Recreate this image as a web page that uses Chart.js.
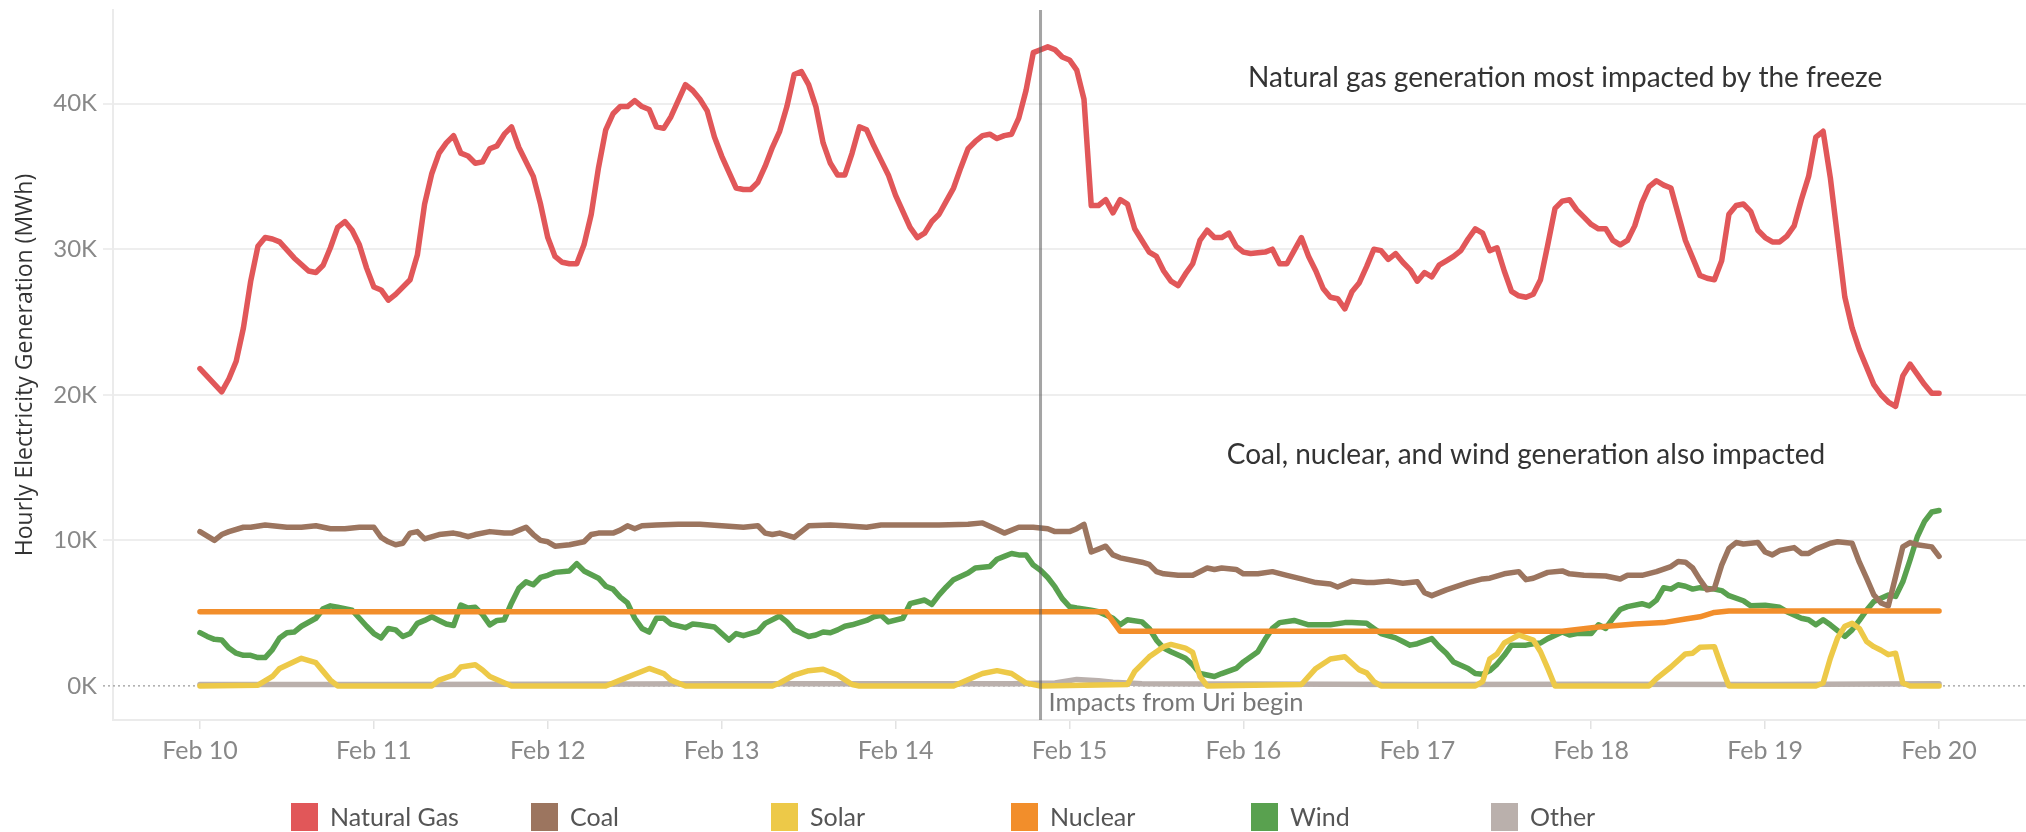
<!DOCTYPE html>
<html>
<head>
<meta charset="utf-8">
<script src="https://cdn.jsdelivr.net/npm/chart.js@4.4.1/dist/chart.umd.min.js"></script>
<style>
  html, body { margin: 0; padding: 0; background: #fff; }
  #wrap { width: 2026px; height: 832px; }
</style>
</head>
<body>
<div id="wrap"><canvas id="genChart" width="2026" height="832"></canvas></div>
<script>
// hours counted from Feb 10 00:00, values in MWh
const dayTicks = [0, 24, 48, 72, 96, 120, 144, 168, 192, 216, 240];
const dayLabels = ["Feb 10", "Feb 11", "Feb 12", "Feb 13", "Feb 14", "Feb 15", "Feb 16", "Feb 17", "Feb 18", "Feb 19", "Feb 20"];
const yTicks = [0, 10000, 20000, 30000, 40000];

const gas = [[0,21800],[3,20200],[4,21100],[5,22300],[6,24600],[7,27800],[8,30200],[9,30800],[10,30700],[11,30500],[13,29400],[15,28500],[16,28400],[17,28900],[18,30100],[19,31500],[20,31900],[21,31300],[22,30300],[23,28700],[24,27400],[25,27200],[26,26500],[27,26900],[29,27900],[30,29600],[31,33100],[32,35200],[33,36600],[34,37300],[35,37800],[36,36600],[37,36400],[38,35900],[39,36000],[40,36900],[41,37100],[42,37900],[43,38400],[44,37000],[46,35000],[47,33100],[48,30800],[49,29500],[50,29100],[51,29000],[52,29000],[53,30300],[54,32400],[55,35600],[56,38200],[57,39300],[58,39800],[59,39800],[60,40200],[61,39800],[62,39600],[63,38400],[64,38300],[65,39100],[66,40200],[67,41300],[68,40900],[69,40300],[70,39500],[71,37700],[72,36400],[73,35300],[74,34200],[75,34100],[76,34100],[77,34600],[78,35700],[79,37000],[80,38100],[81,39800],[82,42000],[83,42200],[84,41300],[85,39800],[86,37300],[87,35900],[88,35100],[89,35100],[90,36600],[91,38400],[92,38200],[93,37100],[94,36100],[95,35100],[96,33700],[98,31500],[99,30800],[100,31100],[101,31900],[102,32400],[103,33300],[104,34200],[105,35600],[106,36900],[107,37400],[108,37800],[109,37900],[110,37600],[111,37800],[112,37900],[113,39000],[114,40900],[115,43500],[116,43700],[117,43900],[118,43700],[119,43200],[120,43000],[121,42300],[122,40300],[123,33000],[124,33000],[125,33400],[126,32500],[127,33400],[128,33100],[129,31400],[130,30600],[131,29800],[132,29500],[133,28500],[134,27800],[135,27500],[136,28300],[137,29000],[138,30600],[139,31300],[140,30800],[141,30800],[142,31100],[143,30200],[144,29800],[145,29700],[147,29800],[148,30000],[149,29000],[150,29000],[151,29900],[152,30800],[153,29500],[154,28500],[155,27300],[156,26700],[157,26600],[158,25900],[159,27100],[160,27700],[161,28800],[162,30000],[163,29900],[164,29300],[165,29700],[166,29100],[167,28600],[168,27800],[169,28400],[170,28100],[171,28900],[172,29200],[173,29500],[174,29900],[175,30700],[176,31400],[177,31100],[178,29900],[179,30100],[180,28500],[181,27100],[182,26800],[183,26700],[184,26900],[185,27900],[186,30300],[187,32800],[188,33300],[189,33400],[190,32700],[191,32200],[192,31700],[193,31400],[194,31400],[195,30600],[196,30300],[197,30600],[198,31600],[199,33200],[200,34300],[201,34700],[202,34400],[203,34200],[204,32400],[205,30600],[206,29400],[207,28200],[208,28000],[209,27900],[210,29200],[211,32400],[212,33000],[213,33100],[214,32600],[215,31300],[216,30800],[217,30500],[218,30500],[219,30900],[220,31600],[221,33400],[222,35000],[223,37700],[224,38100],[225,34900],[226,30800],[227,26700],[228,24600],[229,23100],[230,21900],[231,20700],[232,20000],[233,19500],[234,19200],[235,21300],[236,22100],[237,21400],[238,20700],[239,20100],[240,20100]];

const coal = [[0,10600],[2,10000],[3,10400],[4,10600],[6,10900],[7,10900],[9,11050],[10,11000],[12,10900],[14,10900],[16,11000],[18,10800],[20,10800],[22,10900],[24,10900],[25,10200],[26,9900],[27,9700],[28,9800],[29,10500],[30,10600],[31,10100],[33,10400],[35,10500],[36,10400],[37,10250],[38,10400],[40,10600],[42,10500],[43,10500],[45,10900],[46,10400],[47,10000],[48,9900],[49,9600],[51,9700],[53,9900],[54,10400],[55,10500],[57,10500],[58,10700],[59,11000],[60,10800],[61,11000],[63,11050],[66,11100],[69,11100],[72,11000],[75,10900],[77,11000],[78,10500],[79,10400],[80,10500],[82,10200],[84,11000],[87,11050],[89,11000],[92,10900],[94,11050],[98,11050],[102,11050],[106,11100],[108,11200],[110,10750],[111,10500],[113,10900],[115,10900],[117,10800],[118,10600],[120,10600],[121,10800],[122,11100],[123,9200],[124,9400],[125,9600],[126,9000],[127,8800],[130,8500],[131,8350],[132,7850],[133,7700],[135,7600],[137,7600],[139,8100],[140,8000],[141,8100],[143,8000],[144,7700],[146,7700],[148,7850],[150,7600],[152,7350],[154,7100],[156,7000],[157,6800],[159,7200],[161,7100],[162,7100],[164,7200],[166,7050],[168,7150],[169,6400],[170,6200],[172,6600],[175,7100],[177,7350],[178,7400],[180,7700],[182,7850],[183,7300],[184,7400],[186,7800],[188,7900],[189,7700],[191,7600],[194,7550],[196,7350],[197,7600],[199,7600],[201,7850],[203,8200],[204,8550],[205,8500],[206,8100],[207,7300],[208,6600],[209,6700],[210,8300],[211,9450],[212,9850],[213,9750],[215,9850],[216,9200],[217,9000],[218,9300],[220,9500],[221,9100],[222,9100],[223,9400],[225,9800],[226,9900],[228,9800],[229,8500],[230,7400],[231,6250],[232,5700],[233,5500],[234,7500],[235,9550],[236,9850],[237,9700],[239,9550],[240,8900]];

const solar = [[0,0],[8,50],[10,650],[11,1200],[14,1900],[16,1600],[17,1000],[18,400],[19,0],[32,0],[33,400],[35,750],[36,1300],[38,1450],[39,1100],[40,650],[43,0],[56,0],[58,400],[60,800],[62,1200],[64,850],[65,400],[67,0],[79,0],[80,200],[82,750],[84,1050],[86,1150],[88,750],[90,100],[91,0],[104,0],[107,650],[108,850],[110,1050],[112,850],[114,200],[116,0],[128,100],[129,1000],[131,2000],[133,2700],[134,2850],[136,2600],[137,2300],[138,650],[139,0],[152,100],[154,1200],[156,1850],[158,2000],[160,1100],[161,900],[162,300],[163,0],[176,0],[177,300],[178,1850],[179,2200],[180,2950],[182,3500],[184,3150],[185,2350],[186,1200],[187,0],[200,0],[201,500],[203,1300],[205,2200],[206,2250],[207,2650],[209,2700],[210,1300],[211,0],[223,0],[224,200],[225,1900],[226,3300],[227,4100],[228,4300],[229,3950],[230,3050],[231,2700],[232,2450],[233,2150],[234,2250],[235,200],[236,0],[240,0]];

const nuclear = [[0,5100],[125,5100],[127,3750],[188,3750],[193,4050],[198,4250],[202,4350],[205,4600],[207,4750],[209,5050],[211,5150],[240,5150]];

const wind = [[0,3660],[1,3400],[2,3200],[3,3160],[4,2600],[5,2250],[6,2100],[7,2100],[8,1950],[9,1950],[10,2500],[11,3300],[12,3650],[13,3700],[14,4100],[16,4650],[17,5300],[18,5500],[19,5400],[21,5200],[22,4650],[23,4100],[24,3600],[25,3300],[26,3950],[27,3850],[28,3400],[29,3600],[30,4300],[31,4500],[32,4750],[33,4500],[34,4250],[35,4150],[36,5550],[37,5350],[38,5400],[39,4900],[40,4200],[41,4500],[42,4550],[43,5700],[44,6700],[45,7150],[46,6950],[47,7450],[48,7600],[49,7800],[51,7900],[52,8400],[53,7900],[55,7400],[56,6850],[57,6650],[58,6100],[59,5700],[60,4650],[61,3950],[62,3700],[63,4650],[64,4650],[65,4250],[67,4000],[68,4250],[69,4200],[71,4050],[72,3600],[73,3150],[74,3600],[75,3450],[77,3750],[78,4300],[80,4800],[81,4400],[82,3850],[84,3400],[85,3500],[86,3700],[87,3650],[88,3850],[89,4100],[90,4200],[92,4500],[93,4750],[94,4850],[95,4400],[97,4650],[98,5650],[100,5900],[101,5600],[102,6250],[103,6800],[104,7300],[106,7750],[107,8100],[109,8200],[110,8700],[111,8900],[112,9100],[113,9000],[114,9000],[115,8300],[116,7950],[117,7450],[118,6800],[119,6000],[120,5450],[121,5350],[123,5200],[124,5100],[126,4650],[127,4200],[128,4550],[130,4400],[131,3950],[132,3150],[133,2600],[134,2350],[136,1900],[137,1450],[138,850],[140,650],[141,850],[143,1200],[144,1650],[146,2350],[147,3200],[148,3950],[149,4350],[151,4500],[153,4200],[154,4200],[156,4200],[158,4350],[159,4350],[161,4300],[162,3950],[163,3600],[165,3300],[166,3050],[167,2800],[168,2900],[170,3250],[171,2700],[172,2250],[173,1650],[175,1200],[176,850],[177,800],[178,1050],[179,1500],[180,2100],[181,2800],[183,2800],[184,2900],[185,2950],[186,3250],[188,3700],[189,3500],[190,3600],[192,3600],[193,4200],[194,3950],[195,4650],[196,5250],[197,5450],[199,5650],[200,5500],[201,5900],[202,6750],[203,6650],[204,6950],[205,6850],[206,6650],[207,6750],[209,6650],[210,6550],[211,6200],[213,5850],[214,5500],[216,5550],[218,5400],[219,5100],[221,4650],[222,4550],[223,4200],[224,4550],[225,4200],[227,3400],[228,3850],[229,4500],[230,5200],[231,5800],[233,6250],[234,6150],[235,7150],[236,8650],[237,10250],[238,11300],[239,11950],[240,12050]];

const other = [[0,100],[24,100],[48,120],[72,150],[96,150],[112,150],[118,200],[121,450],[124,350],[126,250],[130,150],[144,130],[168,100],[192,120],[216,100],[240,150]];

const uriStartHour = 116;
const uriLabel = "Impacts from Uri begin";
const notes = [
  { text: "Natural gas generation most impacted by the freeze", hour: 188.4, mw: 41750 },
  { text: "Coal, nuclear, and wind generation also impacted", hour: 183.0, mw: 15850 },
];

const toPoints = (rows) => rows.map(([h, v]) => ({ x: h, y: v }));

function series(label, rows, color, order) {
  return {
    label: label,
    data: toPoints(rows),
    borderColor: color,
    backgroundColor: color,
    borderWidth: 5.5,
    pointRadius: 0,
    tension: 0,
    borderJoinStyle: "round",
    borderCapStyle: "round",
    order: order,
  };
}

const data = {
  datasets: [
    series("Natural Gas", gas, "#e15759", 0),
    series("Coal", coal, "#9c755f", 3),
    series("Solar", solar, "#edc948", 1),
    series("Nuclear", nuclear, "#f28e2b", 2),
    series("Wind", wind, "#59a14f", 4),
    series("Other", other, "#bab0ac", 5),
  ],
};

// zero line, event line, notes and the legend row
const extras = {
  id: "extras",
  beforeDatasetsDraw(chart) {
    const { ctx, chartArea, scales } = chart;
    const y0 = scales.y.getPixelForValue(0);
    ctx.save();
    ctx.strokeStyle = "#9a9a9a";
    ctx.lineWidth = 1.2;
    ctx.setLineDash([2, 3]);
    ctx.beginPath();
    ctx.moveTo(chartArea.left - 10, y0);
    ctx.lineTo(chartArea.right, y0);
    ctx.stroke();
    ctx.restore();
  },
  afterDatasetsDraw(chart) {
    const { ctx, chartArea, scales } = chart;
    const xu = scales.x.getPixelForValue(uriStartHour);
    ctx.save();
    ctx.strokeStyle = "rgba(90, 90, 90, 0.55)";
    ctx.lineWidth = 3;
    ctx.beginPath();
    ctx.moveTo(xu, chartArea.top);
    ctx.lineTo(xu, chartArea.bottom);
    ctx.stroke();

    ctx.fillStyle = "#777";
    ctx.font = "25.5px Lato";
    ctx.textAlign = "left";
    ctx.textBaseline = "middle";
    ctx.fillText(uriLabel, xu + 8, chartArea.bottom - 17);

    ctx.fillStyle = "#333";
    ctx.font = "28px Lato";
    ctx.textAlign = "center";
    notes.forEach((n) => {
      ctx.fillText(n.text, scales.x.getPixelForValue(n.hour), scales.y.getPixelForValue(n.mw));
    });
    ctx.restore();
  },
  afterDraw(chart) {
    const { ctx } = chart;
    ctx.save();
    ctx.font = "25px Lato";
    ctx.textAlign = "left";
    ctx.textBaseline = "middle";
    chart.data.datasets.forEach((ds, i) => {
      const left = 291 + i * 240;
      ctx.fillStyle = ds.borderColor;
      ctx.fillRect(left, 803, 27, 28);
      ctx.fillStyle = "#555";
      ctx.fillText(ds.label, left + 39, 818);
    });
    ctx.restore();
  },
};

const config = {
  type: "line",
  data: data,
  options: {
    responsive: false,
    devicePixelRatio: 1,
    animation: false,
    layout: { padding: { top: 10, right: 0, bottom: 0, left: 0 } },
    plugins: {
      legend: { display: false },
      tooltip: { enabled: false },
    },
    scales: {
      x: {
        type: "linear",
        min: -12,
        max: 252,
        afterBuildTicks: (s) => { s.ticks = dayTicks.map((v) => ({ value: v })); },
        afterFit: (s) => { s.height = 112; },
        grid: { drawOnChartArea: false, drawTicks: true, tickLength: 9, color: "#e2e2e2", lineWidth: 1.5 },
        border: { display: true, color: "#ebebeb", width: 2 },
        ticks: {
          autoSkip: false,
          maxRotation: 0,
          padding: 7,
          color: "#888",
          font: { family: "Lato", size: 25 },
          callback: (v, i) => dayLabels[i],
        },
      },
      y: {
        min: -2340,
        max: 46430,
        afterBuildTicks: (s) => { s.ticks = yTicks.map((v) => ({ value: v })); },
        afterFit: (s) => {
          s.width = 113;
          s.paddingTop = 0;
          s.paddingBottom = 0;
        },
        grid: {
          color: (c) => (c.tick && c.tick.value === 0 ? "rgba(0,0,0,0)" : "#eeeeee"),
          lineWidth: 2,
          tickLength: 10,
        },
        border: { display: true, color: "#ebebeb", width: 2 },
        ticks: {
          padding: 6,
          color: "#888",
          font: { family: "Lato", size: 24 },
          callback: (v) => v / 1000 + "K",
        },
        title: {
          display: true,
          text: "Hourly Electricity Generation (MWh)",
          color: "#333",
          font: { family: "Open Sans", size: 23 },
          padding: { top: 12, bottom: 0 },
        },
      },
    },
  },
  plugins: [extras],
};

const myChart = new Chart(document.getElementById("genChart"), config);
</script>
</body>
</html>
